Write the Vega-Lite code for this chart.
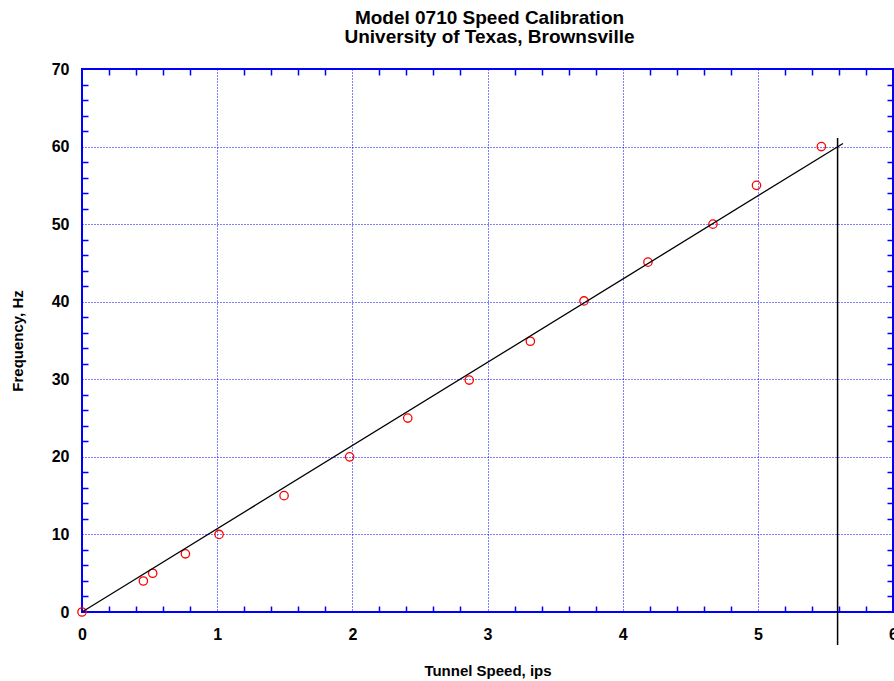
{
  "$schema": "https://vega.github.io/schema/vega-lite/v6.json",
  "width": 811,
  "height": 543,
  "autosize": {"type": "none"},
  "padding": {"left": 82, "top": 69, "right": 1, "bottom": 69},
  "background": "white",
  "title": {
    "text": ["Model 0710 Speed Calibration", "University of Texas, Brownsville"],
    "font": "Liberation Sans",
    "fontSize": 19,
    "fontWeight": "bold",
    "color": "black",
    "lineHeight": 19.5,
    "anchor": "middle",
    "offset": 14,
    "dx": 2
  },
  "datasets": {
    "points": [
      {"speed": 0, "freq": 0},
      {"speed": 0.454, "freq": 4},
      {"speed": 0.523, "freq": 5},
      {"speed": 0.765, "freq": 7.5},
      {"speed": 1.014, "freq": 10},
      {"speed": 1.495, "freq": 15},
      {"speed": 1.98, "freq": 20},
      {"speed": 2.41, "freq": 25},
      {"speed": 2.865, "freq": 29.9},
      {"speed": 3.317, "freq": 34.9},
      {"speed": 3.714, "freq": 40.1},
      {"speed": 4.187, "freq": 45.1},
      {"speed": 4.668, "freq": 50},
      {"speed": 4.99, "freq": 55},
      {"speed": 5.47, "freq": 60}
    ],
    "fit": [
      {"x0": 0, "y0": 0, "x1": 5.63, "y1": 60.4}
    ],
    "marker": [
      {"x": 5.59, "ylo": -4.25, "yhi": 61.1}
    ]
  },
  "resolve": {"axis": {"x": "independent", "y": "independent"}},
  "layer": [
    {
      "data": {"name": "points"},
      "mark": {"type": "point", "shape": "circle", "filled": false, "color": "#ff0000", "size": 70, "strokeWidth": 1.3, "opacity": 1},
      "encoding": {
        "x": {
          "field": "speed", "type": "quantitative",
          "scale": {"domain": [0, 6], "nice": false, "zero": false},
          "axis": {
            "orient": "bottom",
            "values": [0,0.2,0.4,0.6,0.8,1,1.2,1.4,1.6,1.8,2,2.2,2.4,2.6,2.8,3,3.2,3.4,3.6,3.8,4,4.2,4.4,4.6,4.8,5,5.2,5.4,5.6,5.8,6],
            "labelExpr": "datum.value % 1 === 0 ? format(datum.value, 'd') : ''",
            "labelOverlap": false,
            "labelFlush": false,
            "ticks": false, "tickSize": 0, "domain": false,
            "labelPadding": 14,
            "grid": true,
            "gridDash": {"condition": {"test": "datum.value % 1 === 0", "value": [1, 2]}, "value": [6, 531, 6, 0]},
            "gridWidth": {"condition": {"test": "datum.value % 1 === 0", "value": 1}, "value": 1.5},
            "title": "Tunnel Speed, ips", "titlePadding": 21
          }
        },
        "y": {
          "field": "freq", "type": "quantitative",
          "scale": {"domain": [0, 70], "nice": false, "zero": false},
          "axis": {
            "orient": "left",
            "values": [0,2,4,6,8,10,12,14,16,18,20,22,24,26,28,30,32,34,36,38,40,42,44,46,48,50,52,54,56,58,60,62,64,66,68,70],
            "labelExpr": "datum.value % 10 === 0 ? format(datum.value, 'd') : ''",
            "labelOverlap": false,
            "ticks": false, "tickSize": 0, "domain": false,
            "labelPadding": 13,
            "grid": true,
            "gridDash": {"condition": {"test": "datum.value % 10 === 0", "value": [1, 2]}, "value": [6, 799, 6, 0]},
            "gridWidth": {"condition": {"test": "datum.value % 10 === 0", "value": 1}, "value": 1.5},
            "title": "Frequency, Hz", "titlePadding": 26
          }
        }
      }
    },
    {
      "data": {"name": "fit"},
      "mark": {"type": "rule", "color": "black", "strokeWidth": 1.3},
      "encoding": {
        "x": {"field": "x0", "type": "quantitative", "axis": null},
        "x2": {"field": "x1"},
        "y": {"field": "y0", "type": "quantitative", "axis": null},
        "y2": {"field": "y1"}
      }
    },
    {
      "data": {"name": "marker"},
      "mark": {"type": "rule", "color": "black", "strokeWidth": 1.5},
      "encoding": {
        "x": {"field": "x", "type": "quantitative", "axis": null},
        "y": {"field": "ylo", "type": "quantitative", "axis": null},
        "y2": {"field": "yhi"}
      }
    }
  ],
  "config": {
    "view": {"stroke": "#0000ff", "strokeWidth": 2},
    "font": "Liberation Sans",
    "axis": {
      "domainColor": "#0000ff",
      "domainWidth": 2,
      "labelFont": "Liberation Sans",
      "labelFontWeight": "bold",
      "labelFontSize": 16,
      "labelColor": "black",
      "titleFont": "Liberation Sans",
      "titleFontWeight": "bold",
      "titleFontSize": 15,
      "titleColor": "black",
      "gridColor": "#0000ff",
      "gridDash": [1, 2],
      "gridWidth": 1,
      "gridOpacity": 1
    }
  }
}
